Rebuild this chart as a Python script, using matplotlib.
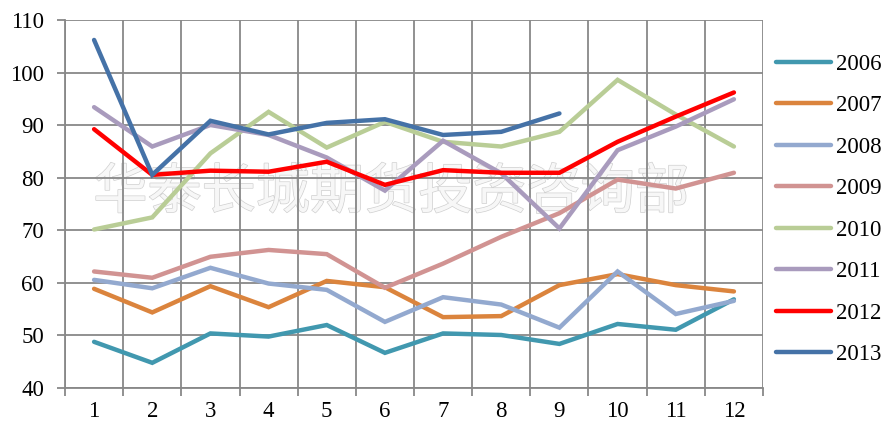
import matplotlib.pyplot as plt
import matplotlib.patheffects as pe

# ---- Data
months = list(range(1, 13))
years = ["2006", "2007", "2008", "2009", "2010", "2011", "2012", "2013"]

v2006 = [48.7, 44.7, 50.3, 49.7, 51.9, 46.6, 50.3, 50.0, 48.3, 52.1, 51.0, 56.8]
v2007 = [58.8, 54.3, 59.3, 55.3, 60.3, 59.1, 53.4, 53.6, 59.5, 61.6, 59.5, 58.3]
v2008 = [60.5, 58.9, 62.8, 59.8, 58.6, 52.5, 57.2, 55.8, 51.4, 62.1, 54.0, 56.5]
v2009 = [62.1, 60.9, 64.9, 66.2, 65.4, 59.0, 63.6, 68.7, 73.2, 79.6, 77.9, 80.9]
v2010 = [70.1, 72.4, 84.6, 92.5, 85.7, 90.6, 86.8, 85.9, 88.7, 98.6, 92.0, 85.9]
v2011 = [93.4, 85.9, 90.0, 88.1, 83.8, 77.5, 87.0, 80.8, 70.3, 85.2, 89.7, 94.9]
v2012 = [89.2, 80.5, 81.3, 81.1, 83.0, 78.6, 81.4, 80.9, 80.9, 86.8, 91.6, 96.2]
v2013 = [106.2, 80.5, 90.8, 88.2, 90.4, 91.1, 88.1, 88.7, 92.2]

series = [v2006, v2007, v2008, v2009, v2010, v2011, v2012, v2013]
colors = ["#4198AF", "#DB843D", "#93A9CF", "#D19392",
          "#B9CD96", "#A99BBD", "#FF0000", "#4572A7"]

watermark = "华泰长城期货投资咨询部"

# ---- Figure
fig = plt.figure(figsize=(8.85, 4.23), dpi=100)
ax = fig.add_axes([65/885, 1 - 387.5/423, (763 - 65)/885, (387.5 - 20)/423])

serif = "Liberation Serif"
grid_col = "#888888"

for vals, col, lab in zip(series, colors, years):
    ax.plot(months[:len(vals)], vals, color=col, lw=3.2, label=lab,
            solid_capstyle="round", solid_joinstyle="miter", zorder=3)

ax.set_xlim(0.5, 12.5)
ax.set_ylim(40, 110)
ax.set_yticks(range(40, 111, 10))
ax.set_xticks(months)
ax.set_xticks([m + 0.5 for m in range(0, 13)], minor=True)

# grid on whole values (y) and between categories (x)
ax.grid(True, axis="y", which="major", color=grid_col, lw=1.3, zorder=0)
ax.grid(True, axis="x", which="minor", color=grid_col, lw=1.3, zorder=0)
ax.tick_params(axis="x", which="major", length=0, pad=10,
               labelsize=16.5, labelfontfamily=serif)
ax.tick_params(axis="x", which="minor", length=6, width=1.3, color=grid_col)
ax.tick_params(axis="y", length=6, width=1.3, color=grid_col, pad=9,
               labelsize=16.5, labelfontfamily=serif)

for side in ["top", "right"]:
    ax.spines[side].set_visible(False)
for side in ["left", "bottom"]:
    ax.spines[side].set_color(grid_col)
    ax.spines[side].set_linewidth(1.3)

# watermark
ax.text(0.467, 0.53, watermark, transform=ax.transAxes, ha="center", va="center",
        fontsize=39, family="Noto Sans CJK SC", color="#f7f7f7", zorder=1,
        path_effects=[pe.withStroke(linewidth=1.0, foreground="#d0d0d0")])

leg = ax.legend(loc="upper left", bbox_to_anchor=(776/885, 1 - 54/423),
                bbox_transform=fig.transFigure, frameon=False,
                prop={"family": serif, "size": 16.5}, handlelength=2.4,
                handletextpad=0.2, labelspacing=0.89, borderpad=0,
                borderaxespad=0)

fig.savefig("out.png", dpi=100)
